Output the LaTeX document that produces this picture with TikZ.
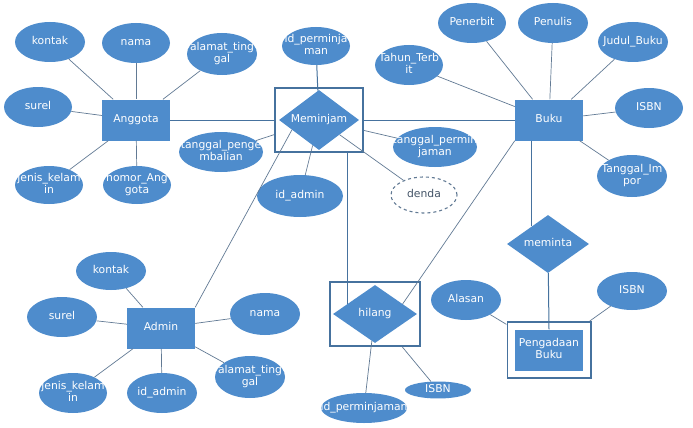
\documentclass[tikz,border=0pt]{standalone}
\usepackage{fontspec}
\setmainfont{DejaVu Sans}
\usepackage{xcolor}
\usetikzlibrary{shapes.geometric,fit,positioning}
\definecolor{biru}{RGB}{78,140,204}
\definecolor{abu}{RGB}{98,122,148}
\definecolor{tepi}{RGB}{70,114,158}
\newcommand{\tk}[1]{\makebox[0pt]{\begin{tabular}{@{}c@{}}#1\end{tabular}}}

\begin{document}
\begin{tikzpicture}[x=1pt,y=-1pt,
	every node/.style={text=white,font=\fontsize{10.8}{12}\selectfont,inner sep=0pt},
	entitas/.style={rectangle,fill=biru,minimum width=68,minimum height=41},
	atribut/.style={ellipse,fill=biru,minimum width=70,minimum height=40},
	relasi/.style={diamond,fill=biru,minimum width=82,minimum height=58},
	kotak/.style={draw=tepi,line width=1.6pt},
	garis/.style={draw=abu,line width=0.7pt},
	utama/.style={draw=tepi,line width=1pt}]
	\useasboundingbox[fill=white] (0,0) rectangle (693,428);

	% Anggota
	\node[entitas] (ang) at (136,120) {\tk{Anggota}};
	\node[atribut] (a1) at (50,42) {\tk{kontak}};
	\node[atribut,minimum width=68] (a2) at (136,43) {\tk{nama}};
	\node[atribut,minimum height=42] (a3) at (222,54) {\tk{alamat\_ting\\gal}};
	\node[atribut,minimum width=68] (a4) at (38,107) {\tk{surel}};
	\node[atribut,minimum width=68,minimum height=38] (a5) at (49,185) {\tk{jenis\_kelam\\in}};
	\node[atribut,minimum width=68,minimum height=38] (a6) at (137,185) {\tk{nomor\_Ang\\gota}};

	% Meminjam
	\node[relasi,minimum width=80,minimum height=60] (mem) at (319,120) {\tk{Meminjam}};
	\node[kotak,fit=(mem),inner xsep=4pt,inner ysep=2pt] (memb) {};
	\node[atribut,minimum width=68,minimum height=38] (m1) at (316,46) {\tk{id\_perminja\\man}};
	\node[atribut,minimum width=84] (m2) at (221,152) {\tk{tanggal\_penge\\mbalian}};
	\node[atribut,minimum width=86,minimum height=42] (m3) at (300,196) {\tk{id\_admin}};
	\node[atribut,minimum width=84] (m4) at (435,147) {\tk{tanggal\_permin\\jaman}};
	\node[atribut,fill=white,draw=abu,dashed,line width=1.1pt,text=abu!70!black,minimum width=66,minimum height=36] (m5) at (424,195) {\tk{denda}};

	% Buku
	\node[entitas] (buku) at (549,120) {\tk{Buku}};
	\node[atribut,minimum width=68] (b1) at (409,65) {\tk{Tahun\_Terb\\it}};
	\node[atribut,minimum width=68] (b2) at (472,23) {\tk{Penerbit}};
	\node[atribut] (b3) at (553,23) {\tk{Penulis}};
	\node[atribut] (b4) at (633,42) {\tk{Judul\_Buku}};
	\node[atribut,minimum width=68] (b5) at (649,108) {\tk{ISBN}};
	\node[atribut,minimum height=42] (b6) at (632,176) {\tk{Tanggal\_Im\\por}};

	% Admin
	\node[entitas] (adm) at (161,328) {\tk{Admin}};
	\node[atribut,minimum height=38] (d1) at (111,271) {\tk{kontak}};
	\node[atribut] (d2) at (62,317) {\tk{surel}};
	\node[atribut,minimum height=42] (d3) at (265,314) {\tk{nama}};
	\node[atribut,minimum width=68] (d4) at (73,393) {\tk{jenis\_kelam\\in}};
	\node[atribut] (d5) at (162,393) {\tk{id\_admin}};
	\node[atribut,minimum height=42] (d6) at (250,377) {\tk{alamat\_ting\\gal}};

	% hilang
	\node[relasi,minimum width=84] (hil) at (375,314) {\tk{hilang}};
	\node[kotak,fit=(hil),inner sep=3pt] (hilb) {};
	\node[atribut,minimum width=86,minimum height=30] (h1) at (364,408) {\tk{id\_perminjaman}};
	\node[atribut,minimum width=66,minimum height=16] (h2) at (438,390) {\tk{ISBN}};

	% meminta & Pengadaan Buku
	\node[relasi] (mta) at (548,244) {\tk{meminta}};
	\node[entitas] (pb) at (549,350) {\tk{Pengadaan\\Buku}};
	\node[kotak,fit=(pb),inner sep=7.5pt] (pbb) {};
	\node[atribut] (p1) at (466,300) {\tk{Alasan}};
	\node[atribut,minimum height=38] (p2) at (632,291) {\tk{ISBN}};

	\foreach \a in {a1,a2,a3,a4,a5,a6} \draw[garis] (\a) -- (ang);
	\foreach \a in {b1,b2,b3,b4,b5,b6} \draw[garis] (\a) -- (buku);
	\foreach \a in {d1,d2,d3,d4,d5,d6} \draw[garis] (\a) -- (adm);
	\draw[garis] (m2) -- (memb);
	\draw[garis] (m4) -- (memb);
	\draw[garis] (m3) -- (mem);
	\draw[garis] (m5) -- (mem);
	\draw[garis] (h1) -- (hil);
	\draw[garis] (h2) -- (hilb);
	\draw[garis] (p1) -- (pbb);
	\draw[garis] (p2) -- (pbb);

	\draw[utama] (ang) -- (memb);
	\draw[utama] (memb) -- (buku);
	\draw[utama] (m1) -- (mem);
	\draw[garis] (adm.north east) -- (mem.200);
	\draw[utama] (hil.160 |- memb.south) -- (hil.160);
	\draw[garis] (hil.20) -- (buku.south west);
	\draw[utama] (mta.132 |- buku.south) -- (mta.132);
	\draw[utama] (mta) -- (pb.north);
\end{tikzpicture}
\end{document}
